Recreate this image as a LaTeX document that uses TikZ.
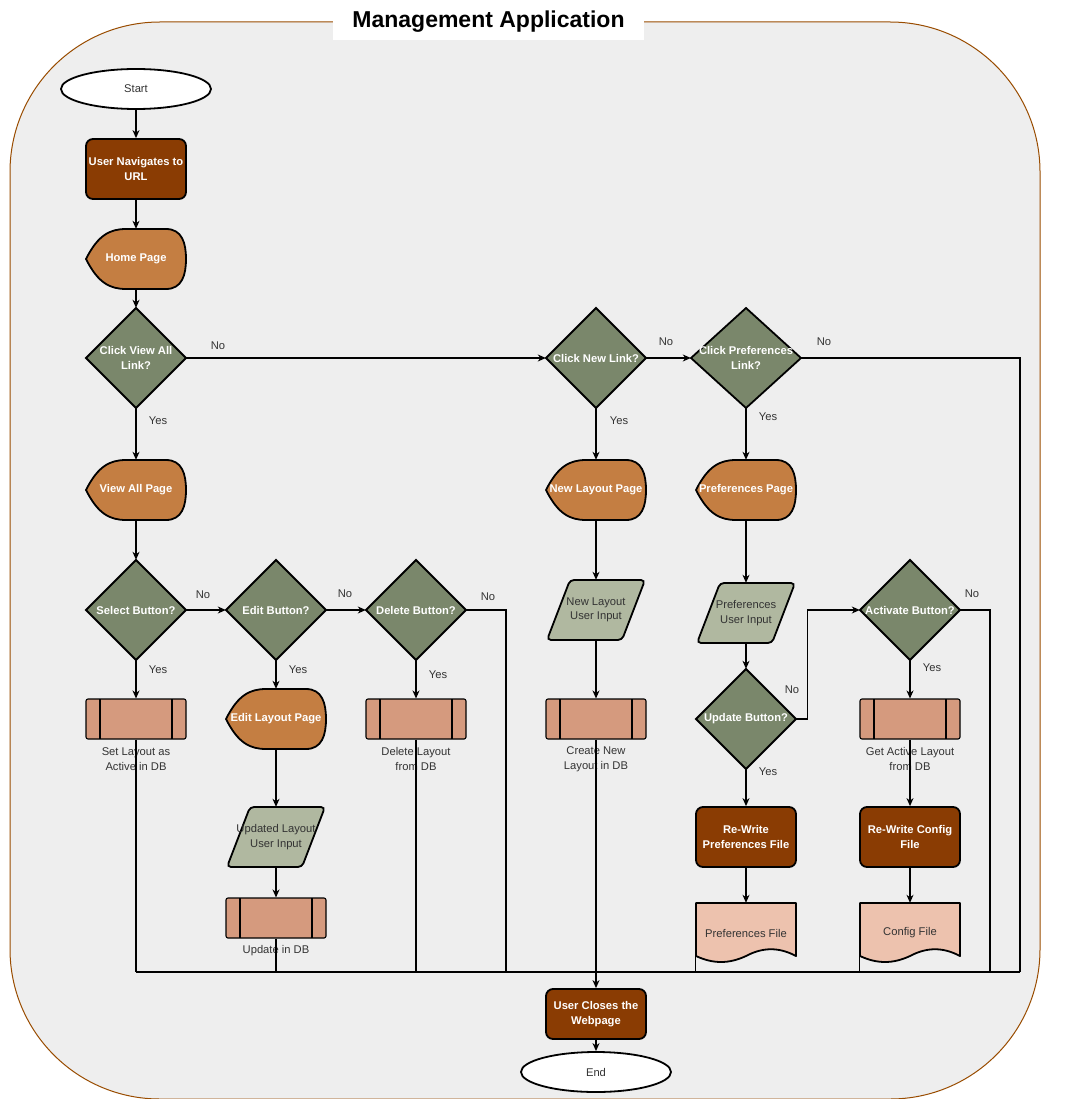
\documentclass[tikz,border=0pt]{standalone}
\usepackage{fontspec}
\setmainfont{Liberation Sans}
\usetikzlibrary{arrows.meta, shapes.geometric}

\definecolor{panel}{HTML}{EEEEEE}
\definecolor{frame}{HTML}{994C00}
\definecolor{procfill}{HTML}{8A3C03}
\definecolor{pagefill}{HTML}{C47E42}
\definecolor{decfill}{HTML}{7A876B}
\definecolor{infill}{HTML}{B0B8A0}
\definecolor{dbfill}{HTML}{D59A7E}
\definecolor{docfill}{HTML}{EDC2AE}
\definecolor{txtdark}{HTML}{333333}

% page shape: pointed left, rounded right
\newcommand{\pagenode}[3]{%
  \draw[pageshape, shift={(#2)}] (-50,0) .. controls (-38,-24) and (-26,-30) .. (-10,-30)
    -- (30,-30) .. controls (46,-30) and (50,-16) .. (50,0)
    .. controls (50,16) and (46,30) .. (30,30) -- (-10,30)
    .. controls (-26,30) and (-38,24) .. cycle;
  \node[shapetext, text=white, font=\boldfont] (#1) at (#2) {#3};
}
% decision diamond, optional half width
\newcommand{\decnode}[4][50]{%
  \draw[decshape, shift={(#3)}] (-#1,0) -- (0,-50) -- (#1,0) -- (0,50) -- cycle;
  \node[shapetext, minimum width={#1*2pt}, minimum height=100pt, text=white, font=\boldfont] (#2) at (#3) {#4};
}
% user input parallelogram
\newcommand{\inputnode}[3]{%
  \draw[inshape, shift={(#2)}] (-26,-30) -- (49,-30) -- (26,30) -- (-49,30) -- cycle;
  \node[shapetext, text=txtdark] (#1) at (#2) {#3};
}
% document with wavy bottom
\newcommand{\docnode}[3]{%
  \draw[docshape, shift={(#2)}] (-50,23) -- (-50,-30) -- (50,-30) -- (50,23)
    .. controls (33,14) and (17,14) .. (0,23)
    .. controls (-17,31) and (-33,31) .. cycle;
  \node[shapetext, text=txtdark] (#1) at (#2) {#3};
}
\newcommand{\boldfont}{\fontsize{11.2}{14.5}\selectfont\bfseries}

\begin{document}
\begin{tikzpicture}
  [x=1pt, y=-1pt,
  every node/.style={font=\fontsize{11.2}{14.5}\selectfont},
  termnode/.style={ellipse, draw, fill=white, line width=1.8pt, minimum width=150pt, minimum height=40pt, inner sep=0pt, text=txtdark},
  procnode/.style={rectangle, draw, fill=procfill, rounded corners=7pt, line width=1.8pt, minimum width=100pt, minimum height=60pt, inner sep=0pt, align=center, text=white, font=\boldfont},
  dbnode/.style={rectangle, draw, fill=dbfill, rounded corners=2pt, line width=1.1pt, minimum width=100pt, minimum height=40pt,
    path picture={\draw[line width=1.1pt] ([xshift=14pt]path picture bounding box.north west) -- ([xshift=14pt]path picture bounding box.south west);
      \draw[line width=1.1pt] ([xshift=-14pt]path picture bounding box.north east) -- ([xshift=-14pt]path picture bounding box.south east);}},
  dblabel/.style={align=center, text=txtdark, inner sep=0pt},
  shapetext/.style={inner sep=0pt, minimum width=100pt, minimum height=60pt, align=center},
  pageshape/.style={draw, fill=pagefill, line width=1.8pt, line join=round},
  decshape/.style={draw, fill=decfill, line width=1.8pt},
  inshape/.style={draw, fill=infill, line width=1.8pt, rounded corners=4pt},
  docshape/.style={draw, fill=docfill, line width=1.8pt, line join=round},
  edgelbl/.style={text=txtdark, inner sep=1pt},
  flow/.style={line width=1.1pt, -{Stealth[length=8pt, width=7pt, inset=2.5pt]}},
  wire/.style={line width=1.1pt}]

  \useasboundingbox (0,0) rectangle (1075,1099);

  % container and title
  \draw[draw=frame, fill=panel, line width=1pt, rounded corners=150pt] (10,22) rectangle (1040,1099);
  \node[fill=white, minimum width=311pt, minimum height=40pt, font=\fontsize{23}{28}\selectfont\bfseries] (title) at (488.5,20) {};
  \node[font=\fontsize{23}{28}\selectfont\bfseries, inner sep=0pt] (titletext) at (488.5,22) {Management Application};

  % left column
  \node[termnode] (start) at (136,89) {Start};
  \node[procnode] (navurl) at (136,169) {User Navigates to\\URL};
  \pagenode{home}{136,259}{Home Page}
  \decnode{clickall}{136,358}{Click View All\\Link?}
  \pagenode{viewall}{136,490}{View All Page}
  \decnode{selbtn}{136,610}{Select Button?}
  \decnode{editbtn}{276,610}{Edit Button?}
  \decnode{delbtn}{416,610}{Delete Button?}
  \node[dbnode] (setact) at (136,719) {};
  \node[dblabel] (setactlbl) at (136,759) {Set Layout as\\Active in DB};
  \pagenode{editpage}{276,719}{Edit Layout Page}
  \inputnode{editin}{276,837}{Updated Layout\\User Input}
  \node[dbnode] (upddb) at (276,918) {};
  \node[dblabel] (upddblbl) at (276,951) {Update in DB};
  \node[dbnode] (deldb) at (416,719) {};
  \node[dblabel] (deldblbl) at (416,759) {Delete Layout\\from DB};

  % new layout column
  \decnode{clicknew}{596,358}{Click New Link?}
  \pagenode{newpage}{596,490}{New Layout Page}
  \inputnode{newin}{596,610}{New Layout\\User Input}
  \node[dbnode] (newdb) at (596,719) {};
  \node[dblabel] (newdblbl) at (596,759) {Create New\\Layout in DB};

  % preferences column
  \decnode[55]{clickpref}{746,358}{Click Preferences\\Link?}
  \pagenode{prefpage}{746,490}{Preferences Page}
  \inputnode{prefin}{746,613}{Preferences\\User Input}
  \decnode{updbtn}{746,719}{Update Button?}
  \node[procnode] (rwpref) at (746,837) {Re-Write\\Preferences File};
  \docnode{preffile}{746,933}{Preferences File}

  \decnode{actbtn}{910,610}{Activate Button?}
  \node[dbnode] (getact) at (910,719) {};
  \node[dblabel] (getactlbl) at (910,759) {Get Active Layout\\from DB};
  \node[procnode] (rwconf) at (910,837) {Re-Write Config\\File};
  \docnode{conffile}{910,933}{Config File}

  % end
  \node[procnode, minimum height=50pt] (closes) at (596,1014) {User Closes the\\Webpage};
  \node[termnode] (finish) at (596,1072) {End};

  % bus coordinates
  \coordinate (busL) at (136,972);
  \coordinate (busR) at (1020,972);
  \coordinate (delend) at (506,972);
  \coordinate (actend) at (990,972);

  % merging lines
  \draw[wire] (busL) -- (busR);
  \draw[wire] (setact) -- (setact |- busL);
  \draw[wire] (upddb) -- (upddb |- busL);
  \draw[wire] (deldb) -- (deldb |- busL);
  \draw[wire] (delbtn) -| (delend);
  \draw[wire] ([yshift=7pt]preffile.south west) -- (preffile.south west |- busL);
  \draw[wire] ([yshift=7pt]conffile.south west) -- (conffile.south west |- busL);
  \draw[wire] (actbtn) -| (actend);
  \draw[wire] (clickpref) -| (busR);

  % arrows
  \draw[flow] (start) -- (navurl);
  \draw[flow] (navurl) -- (home);
  \draw[flow] (home) -- (clickall);
  \draw[flow] (clickall) -- (clicknew);
  \draw[flow] (clickall) -- (viewall);
  \draw[flow] (viewall) -- (selbtn);
  \draw[flow] (selbtn) -- (editbtn);
  \draw[flow] (editbtn) -- (delbtn);
  \draw[flow] (selbtn) -- (setact);
  \draw[flow] (editbtn) -- (editpage);
  \draw[flow] (delbtn) -- (deldb);
  \draw[flow] (editpage) -- (editin);
  \draw[flow] (editin) -- (upddb);
  \draw[flow] (clicknew) -- (clickpref);
  \draw[flow] (clicknew) -- (newpage);
  \draw[flow] (newpage) -- (newin);
  \draw[flow] (newin) -- (newdb);
  \draw[flow] (newdb) -- (closes);
  \draw[flow] (clickpref) -- (prefpage);
  \draw[flow] (prefpage) -- (prefin);
  \draw[flow] (prefin) -- (updbtn);
  \draw[flow] (updbtn) -- (rwpref);
  \draw[flow] (rwpref) -- (preffile);
  \draw[flow] (updbtn.east) -- ++(11,0) |- (actbtn);
  \draw[flow] (actbtn) -- (getact);
  \draw[flow] (getact) -- (rwconf);
  \draw[flow] (rwconf) -- (conffile);
  \draw[flow] (closes) -- (finish);

  % yes / no labels
  \node[edgelbl] (noall) at (218,346) {No};
  \node[edgelbl] (yesall) at (158,421) {Yes};
  \node[edgelbl] (nosel) at (203,595) {No};
  \node[edgelbl] (yessel) at (158,670) {Yes};
  \node[edgelbl] (noedit) at (345,594) {No};
  \node[edgelbl] (yesedit) at (298,670) {Yes};
  \node[edgelbl] (nodel) at (488,597) {No};
  \node[edgelbl] (yesdel) at (438,675) {Yes};
  \node[edgelbl] (nonew) at (666,342) {No};
  \node[edgelbl] (yesnew) at (619,421) {Yes};
  \node[edgelbl] (nopref) at (824,342) {No};
  \node[edgelbl] (yespref) at (768,417) {Yes};
  \node[edgelbl] (noupd) at (792,690) {No};
  \node[edgelbl] (yesupd) at (768,772) {Yes};
  \node[edgelbl] (noact) at (972,594) {No};
  \node[edgelbl] (yesact) at (932,668) {Yes};
\end{tikzpicture}
\end{document}
